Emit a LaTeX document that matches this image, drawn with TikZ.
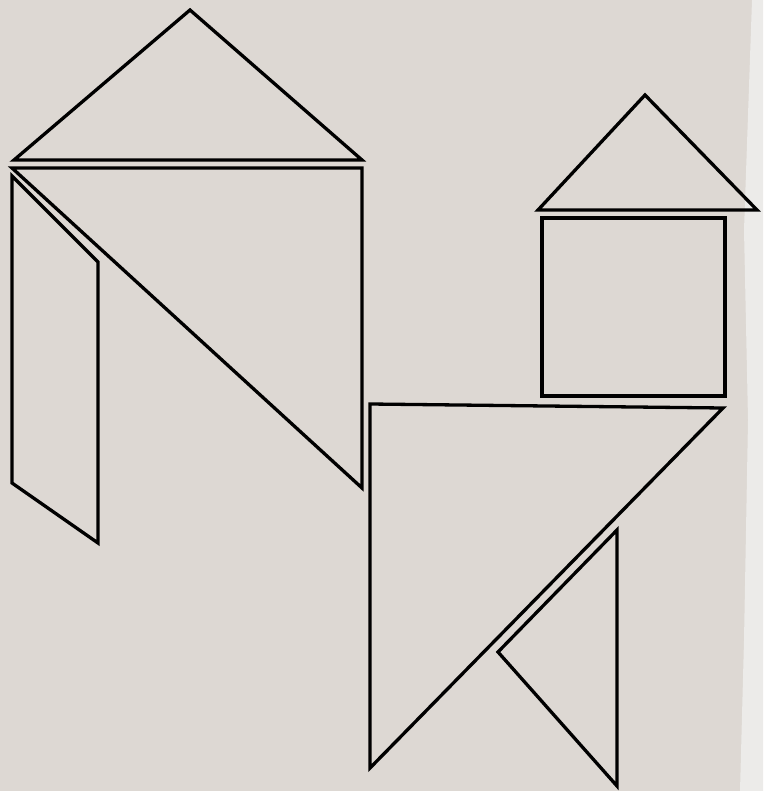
\documentclass[tikz,border=0pt]{standalone}
\usepackage{tikz}
\definecolor{paper}{RGB}{221,216,211}
\definecolor{edge}{RGB}{236,235,233}
\begin{document}
\begin{tikzpicture}[x=1pt,y=-1pt,line width=3.3pt,line join=miter]
        \fill[paper] (0,0) rectangle (763,791);
        \fill[edge] (752,0)--(763,0)--(763,791)--(740,791)--(744,640)--(748,420)--(744,230)--cycle;
        \useasboundingbox (0,0) rectangle (763,791);
        % left house
        \draw (14,160)--(190,10)--(362,160)--cycle;
        \draw (12,168)--(362,168)--(362,488)--cycle;
        \draw (12,176)--(98,262)--(98,543)--(12,483)--cycle;
        % right house
        \draw (538,210)--(645,95)--(757,210)--cycle;
        \draw (542,218) rectangle (725,396);
        \draw (370,404)--(723,408)--(370,768)--cycle;
        \draw (617,530)--(498,652)--(617,786)--cycle;
      \end{tikzpicture}
\end{document}
